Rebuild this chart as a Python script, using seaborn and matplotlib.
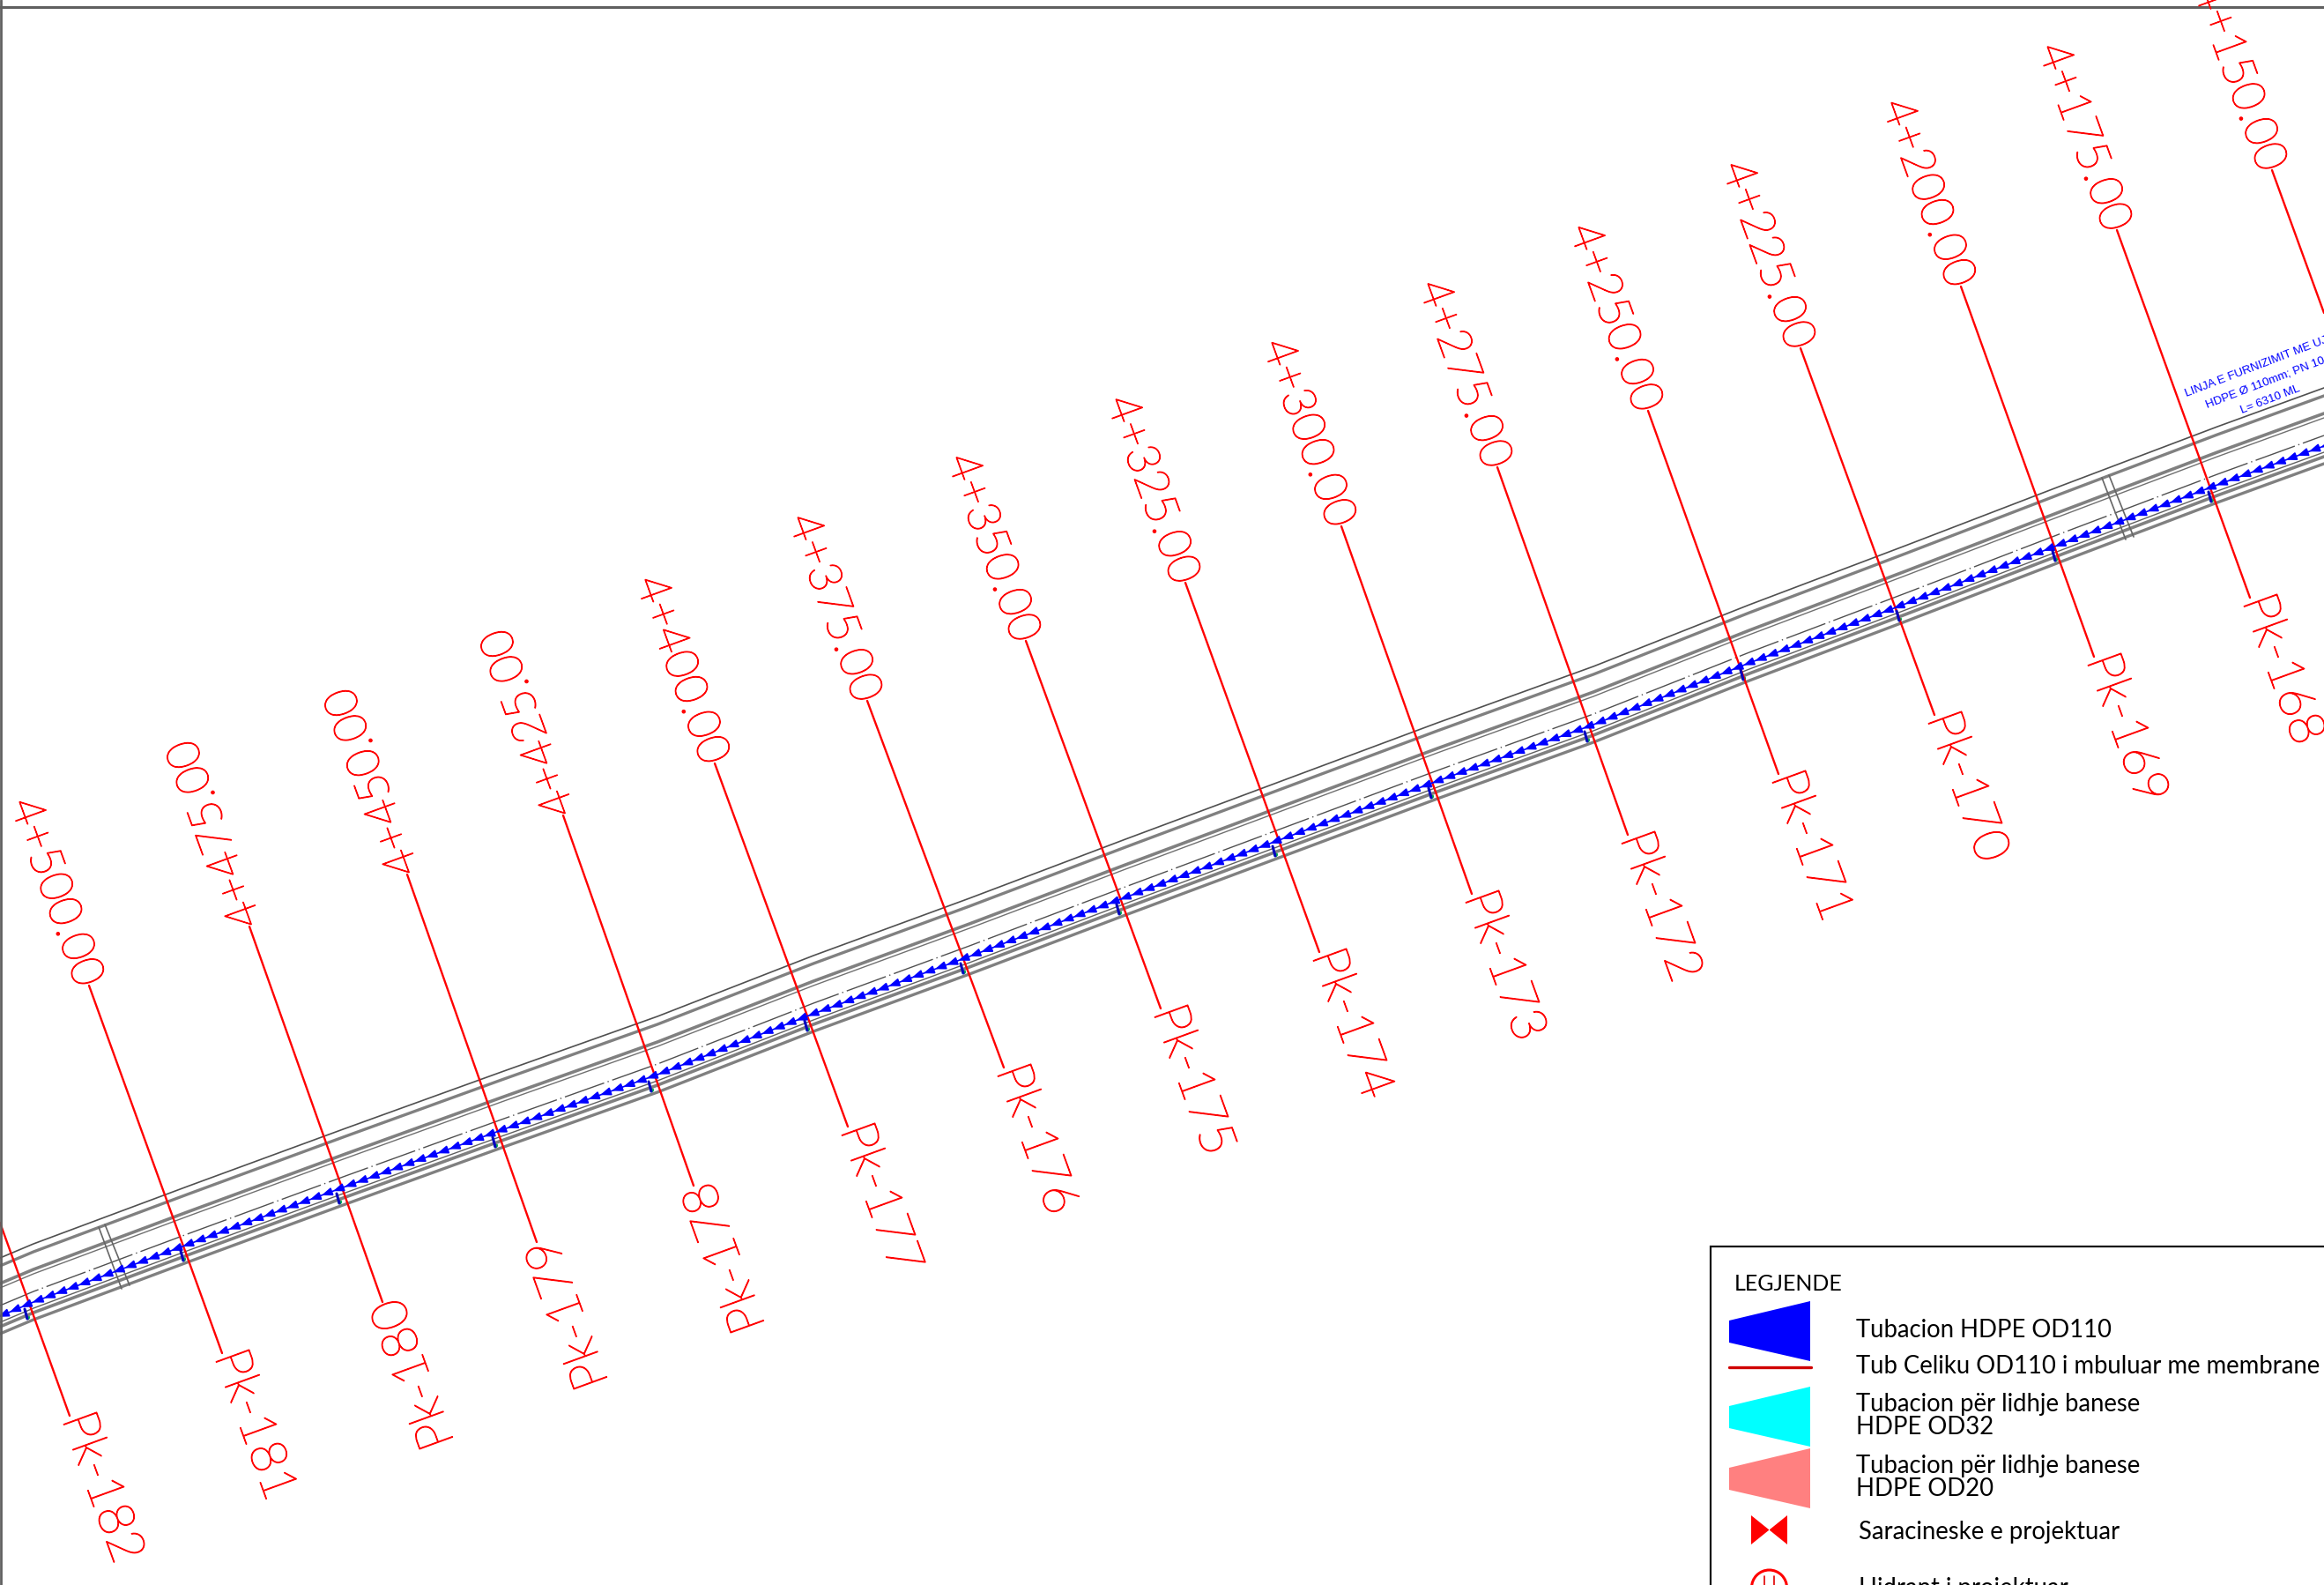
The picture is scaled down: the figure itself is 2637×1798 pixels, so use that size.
import numpy as np
import pandas as pd
import matplotlib
matplotlib.use('Agg')
import matplotlib.pyplot as plt
import matplotlib.patheffects as pe
import seaborn as sns
from matplotlib.patches import Polygon, Circle, Rectangle
from matplotlib.path import Path
from matplotlib.patheffects import AbstractPathEffect
from matplotlib.transforms import IdentityTransform

# Values, in drawing pixels (y goes down)
pipe_x = [0, 38, 215, 392, 569, 746, 923, 1100, 1277, 1454, 1631, 1808, 1985, 2162, 2339, 2516, 2637]
pipe_y = [1493, 1477, 1411, 1346, 1282, 1219, 1150, 1085, 1018, 952, 886, 822, 752, 685, 617, 550, 506]

# stations where the red section lines meet the pipe (no stub on the two ends)
stub_x = pipe_x[1:-1]
stub_y = pipe_y[1:-1]

chainage = ['4+150.00', '4+175.00', '4+200.00', '4+225.00', '4+250.00', '4+275.00', '4+300.00', '4+325.00',
            '4+350.00', '4+375.00', '4+400.00', '4+425.00', '4+450.00', '4+475.00', '4+500.00', None]
pk_names = [None, 'Pk-168', 'Pk-169', 'Pk-170', 'Pk-171', 'Pk-172', 'Pk-173', 'Pk-174',
            'Pk-175', 'Pk-176', 'Pk-177', 'Pk-178', 'Pk-179', 'Pk-180', 'Pk-181', 'Pk-182']
top_x = [2578, 2402, 2225, 2043, 1870, 1699, 1522, 1345, 1164, 984, 811, 639, 462, 283, 101, 0]
top_y = [193, 261, 325, 395, 466, 530, 597, 661, 727, 795, 866, 925, 992, 1051, 1118, 1387]
bot_x = [2637, 2553, 2376, 2195, 2018, 1847, 1670, 1497, 1317, 1139, 962, 787, 609, 434, 252, 79]
bot_y = [355, 678, 745, 811, 878, 947, 1014, 1080, 1144, 1211, 1278, 1345, 1409, 1477, 1535, 1606]
flip_chain = ['4+425.00', '4+450.00', '4+475.00']
flip_pk = ['Pk-178', 'Pk-179', 'Pk-180']

# road edges as vertical offset from the pipe: offset, colour, width
road_offsets = [-66, -57, -37, -32, 7, 12, 20]
road_colors = ['#505050', '#808080', '#808080', '#707070', '#606060', '#808080', '#808080']
road_widths = [1.2, 2.4, 2.6, 1.0, 1.0, 2.6, 2.4]
center_offset = -12

# culverts
culvert_x = [[112, 138], [119, 147], [2385, 2412], [2393, 2421]]
culvert_y = [[1392, 1462], [1389, 1458], [542, 612], [539, 609]]

legend_labels = ['Tubacion HDPE OD110', 'Tub Celiku OD110 i mbuluar me membrane', 'Tubacion për lidhje banese',
                 'HDPE OD32', 'Tubacion për lidhje banese', 'HDPE OD20', 'Saracineske e projektuar', 'Hidrant i projektuar']
legend_label_x = [2106, 2106, 2106, 2106, 2106, 2106, 2109, 2109]
legend_label_y = [1509, 1550, 1593, 1619, 1663, 1689, 1738, 1802]
swatch_colors = ['#0000ff', '#00ffff', '#ff8080']
swatch_tops = [1476, 1573, 1643]

W, H = 2637, 1798
sns.set_theme(style='white')
plt.rcParams['font.family'] = ['Lato', 'DejaVu Sans']


class ArrowHeads(AbstractPathEffect):
    # draws small filled arrowheads along a stroke
    def __init__(self, step=14, length=10, half=3.8):
        super().__init__()
        self.step, self.length, self.half = step, length, half

    def draw_path(self, renderer, gc, tpath, affine, rgbFace=None):
        v = affine.transform_path(tpath).vertices
        verts, codes = [], []
        left = 0.0
        for a, b in zip(v[:-1], v[1:]):
            seg = np.hypot(*(b - a))
            if seg == 0:
                continue
            u = (b - a) / seg
            n = np.array([-u[1], u[0]])
            d = left
            while d < seg:
                # stroke runs left to right, heads point back to the left
                tip = a + u * d
                base = tip + u * self.length
                verts += [tip, base + n * self.half, base - n * self.half, tip]
                codes += [Path.MOVETO, Path.LINETO, Path.LINETO, Path.CLOSEPOLY]
                d += self.step
            left = d - seg
        renderer.draw_path(gc, tpath, affine, None)
        if verts:
            gc0 = renderer.new_gc()
            gc0.copy_properties(gc)
            gc0.set_dashes(0, None)
            renderer.draw_path(gc0, Path(np.array(verts), codes), IdentityTransform(), (0, 0, 1))
            gc0.restore()


fig = plt.figure(figsize=(W / 100, H / 100), dpi=100)
ax = fig.add_axes([0, 0, 1, 1])


def line(xs, ys, color, lw, **kw):
    df = pd.DataFrame({'x': xs, 'y': ys})
    sns.lineplot(data=df, x='x', y='y', sort=False, estimator=None, color=color, linewidth=lw, ax=ax, **kw)


# thin stroke so the light font reads like the CAD text
cad_stroke = [pe.withStroke(linewidth=0.9, foreground='#ff0000')]

# Road edges
for off, col, lw in zip(road_offsets, road_colors, road_widths):
    line(pipe_x, [y + off for y in pipe_y], col, lw)
line(pipe_x, [y + center_offset for y in pipe_y], '#505050', 1.0, dashes=(34, 3, 1, 3))

# Culverts
for xs, ys in zip(culvert_x, culvert_y):
    line(xs, ys, '#666666', 1.2)

# Section lines and labels
for i in range(len(top_x)):
    line([top_x[i], bot_x[i]], [top_y[i], bot_y[i]], '#ff0000', 1.7)
    c, p = chainage[i], pk_names[i]
    if c:
        rot, ha = (110, 'left') if c in flip_chain else (-70, 'right')
        ax.text(top_x[i], top_y[i], c, color='#ff0000', fontsize=37.5, fontweight='light', rotation=rot, ha=ha, va='center',
                rotation_mode='anchor', clip_on=True, path_effects=cad_stroke)
    if p:
        rot, ha = (110, 'right') if p in flip_pk else (-70, 'left')
        ax.text(bot_x[i] + 6, bot_y[i] - 2, p, color='#ff0000', fontsize=41, fontweight='light', rotation=rot, ha=ha, va='center',
                rotation_mode='anchor', clip_on=True, path_effects=cad_stroke)

# Pipe with flow arrows
pipe_line = ax.plot(pipe_x, pipe_y, color='#0000ff', lw=1.2)[0]
pipe_line.set_path_effects([ArrowHeads()])

# House connection stubs
for x, y in zip(stub_x, stub_y):
    line([x - 10, x - 7], [y + 8, y + 19], '#0000c0', 2.2)
    sns.scatterplot(x=[x - 7], y=[y + 17], color='#00b050', s=14, linewidth=0, ax=ax)

# Pipe label
for txt, x, y in [('LINJA E FURNIZIMIT ME UJË', 2480, 447), ('HDPE Ø 110mm; PN 10', 2503, 460), ('L= 6310 ML', 2543, 466)]:
    ax.text(x, y, txt, color='#0000ff', fontsize=9.6, family='Liberation Sans', rotation=21, ha='left', va='center',
            rotation_mode='anchor', clip_on=True)

# Sheet border
line([0, W], [7.5, 7.5], '#606060', 2.2)
line([1, 1], [0, H], '#606060', 2.0)

# Legend
ax.add_patch(Rectangle((1941, 1414), 800, 500, facecolor='white', edgecolor='#111111', lw=1.6, zorder=5))
ax.text(1968, 1456, 'LEGJENDE', fontsize=18, color='black', va='center', zorder=6)
for col, t in zip(swatch_colors, swatch_tops):
    ax.add_patch(Polygon([(1962, t + 22), (2054, t), (2054, t + 68), (1962, t + 47)], facecolor=col, edgecolor='none', zorder=6))
line([1962, 2055], [1551, 1551], '#d00000', 2.4, zorder=6)
ax.add_patch(Polygon([(1987, 1719), (2028, 1752), (2028, 1719), (1987, 1752)], facecolor='#ff0000', edgecolor='none', zorder=6))
ax.add_patch(Circle((2007.5, 1801), 20, facecolor='white', edgecolor='#ff0000', lw=2.2, zorder=6))
line([2002, 2002], [1788, 1798], '#e00000', 1.2, zorder=7)
line([2013, 2013], [1788, 1798], '#e00000', 1.2, zorder=7)
for txt, x, y in zip(legend_labels, legend_label_x, legend_label_y):
    ax.text(x, y, txt, fontsize=19.8, color='black', va='center', zorder=6, clip_on=True)

ax.set_xlim(0, W)
ax.set_ylim(H, 0)
ax.axis('off')
fig.savefig('out.png', dpi=100, facecolor='white')
